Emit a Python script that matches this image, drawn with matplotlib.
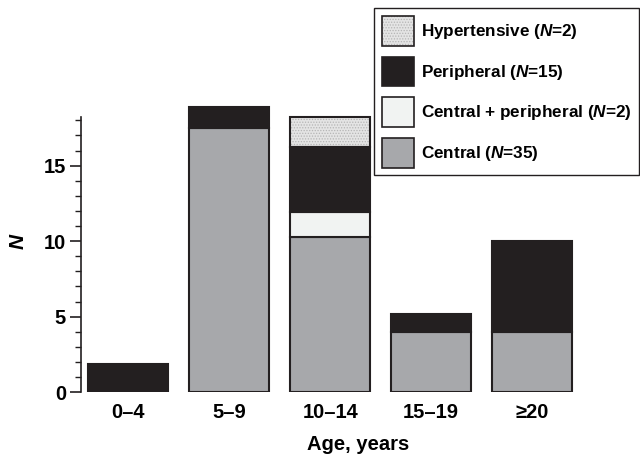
import numpy as np
import matplotlib
matplotlib.use('Agg')
from matplotlib import pyplot as plt
from matplotlib import patches as mpatches

plt.rcParams['font.family'] = ['Liberation Sans', 'DejaVu Sans']
plt.rcParams['font.weight'] = 'bold'
plt.rcParams['mathtext.fontset'] = 'custom'
plt.rcParams['mathtext.it'] = 'Liberation Sans:bold:italic'
plt.rcParams['mathtext.rm'] = 'Liberation Sans:bold'
plt.rcParams['hatch.linewidth'] = 0.6

## data
ageGroups = ['0\u20134', '5\u20139', '10\u201314', '15\u201319', '\u226520']
central = [0.0, 17.5, 10.3, 4.0, 4.0]
centralPeripheral = [0.0, 0.0, 1.6, 0.0, 0.0]
peripheral = [1.85, 1.4, 4.3, 1.2, 6.0]
hypertensive = [0.0, 0.0, 2.0, 0.0, 0.0]

seriesLabels = ['Central ($N$=35)', 'Central + peripheral ($N$=2)',
                'Peripheral ($N$=15)', 'Hypertensive ($N$=2)']

## style
edgeCol = '#231f20'
colCentral = '#a7a8ab'
colCentralPeripheral = '#f1f3f2'
colPeripheral = '#231f20'
colHyper = '#e4e4e4'
barWidth = 0.79

fig = plt.figure(figsize=(6.4, 4.55), dpi=100)
ax = fig.add_axes([0.127, 0.138, 0.864, 0.664])

x = np.arange(len(ageGroups))
bottom = np.zeros(len(ageGroups))

# stacked segments, skip empty ones so no zero-height outlines appear
def drawSegment(values, color, hatch=None):
    global bottom
    vals = np.array(values)
    mask = vals > 0
    if hatch is not None:
        ax.bar(x[mask], vals[mask], barWidth, bottom=bottom[mask], color=color,
               edgecolor='#b5b5b5', linewidth=0, hatch=hatch, zorder=2)
        ax.bar(x[mask], vals[mask], barWidth, bottom=bottom[mask], facecolor='none',
               edgecolor=edgeCol, linewidth=1.5, zorder=3)
    else:
        ax.bar(x[mask], vals[mask], barWidth, bottom=bottom[mask], color=color,
               edgecolor=edgeCol, linewidth=1.5, zorder=3)
    bottom = bottom + vals

drawSegment(central, colCentral)
drawSegment(centralPeripheral, colCentralPeripheral)
drawSegment(peripheral, colPeripheral)
drawSegment(hypertensive, colHyper, hatch='......')

## axes
ax.set_xlim(-0.465, 5.01)
ax.set_ylim(0, 20)
ax.spines['top'].set_visible(False)
ax.spines['right'].set_visible(False)
ax.spines['bottom'].set_visible(False)
ax.spines['left'].set_bounds(0, 18.2)
ax.spines['left'].set_linewidth(1.2)
ax.spines['left'].set_color(edgeCol)

ax.set_yticks([0, 5, 10, 15])
ax.set_yticks(np.arange(0, 19, 1), minor=True)
ax.tick_params(axis='y', which='major', length=8, width=1.2, color=edgeCol,
               labelsize=14.5, pad=3)
ax.tick_params(axis='y', which='minor', length=4.5, width=1.0, color=edgeCol)
ax.set_xticks(x)
ax.set_xticklabels(ageGroups)
ax.tick_params(axis='x', length=0, labelsize=14.5, pad=8)

ax.set_xlabel('Age, years', fontsize=14.5, fontweight='bold', labelpad=9)
ax.set_ylabel('$N$', fontsize=15, labelpad=11)

## legend
hHyperFill = mpatches.Patch(facecolor=colHyper, edgecolor='#b5b5b5', linewidth=0, hatch='......')
hHyperEdge = mpatches.Patch(facecolor='none', edgecolor=edgeCol, linewidth=1.2)
hPeripheral = mpatches.Patch(facecolor=colPeripheral, edgecolor=edgeCol, linewidth=1.2)
hCP = mpatches.Patch(facecolor=colCentralPeripheral, edgecolor=edgeCol, linewidth=1.2)
hCentral = mpatches.Patch(facecolor=colCentral, edgecolor=edgeCol, linewidth=1.2)

leg = fig.legend([(hHyperFill, hHyperEdge), hPeripheral, hCP, hCentral],
                 [seriesLabels[3], seriesLabels[2], seriesLabels[1], seriesLabels[0]],
                 loc='upper right', bbox_to_anchor=(0.999, 0.982), borderaxespad=0,
                 fontsize=12.3, handlelength=1.9, handleheight=2.3, labelspacing=0.64,
                 handletextpad=0.4, borderpad=0.45, fancybox=False, framealpha=1,
                 edgecolor=edgeCol)
leg.get_frame().set_linewidth(1.0)

fig.savefig('out.png', dpi=100)
